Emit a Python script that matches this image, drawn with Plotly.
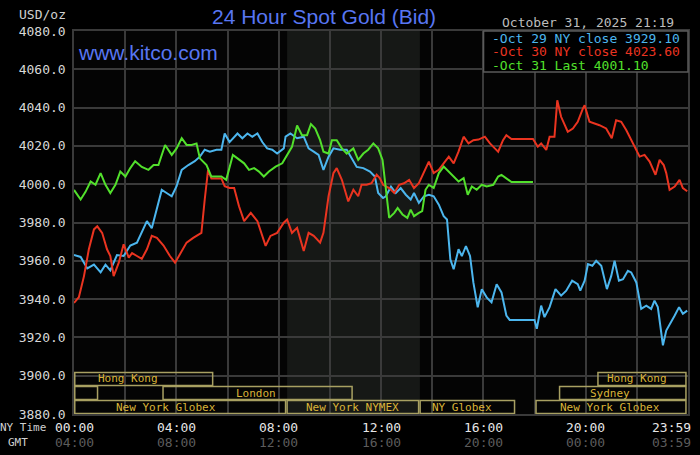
import plotly.graph_objects as go

# hours since 00:00 NY time and bid prices
oct29_hours = [0.00, 0.26, 0.52, 0.78, 1.04, 1.23, 1.42, 1.68, 1.94, 2.20, 2.46, 2.65, 2.85, 3.04,
               3.24, 3.43, 3.62, 3.82, 4.01, 4.21, 4.47, 4.72, 4.92, 5.11, 5.31, 5.57, 5.76, 5.89,
               6.08, 6.39, 6.58, 6.78, 6.97, 7.17, 7.36, 7.55, 7.75, 7.94, 8.20, 8.27, 8.46, 8.72,
               8.98, 9.17, 9.37, 9.56, 9.75, 9.95, 10.14, 10.40, 10.66, 10.85, 11.05, 11.31, 11.57,
               11.76, 11.89, 12.08, 12.19, 12.39, 12.58, 12.77, 12.97, 13.16, 13.29, 13.48, 13.68,
               13.87, 14.06, 14.26, 14.45, 14.58, 14.71, 14.84, 15.03, 15.16, 15.32, 15.48, 15.61,
               15.78, 15.94, 16.13, 16.32, 16.52, 16.71, 16.90, 17.03, 18.00, 18.09, 18.26, 18.39,
               18.59, 18.82, 19.04, 19.24, 19.47, 19.69, 19.79, 19.96, 20.09, 20.26, 20.41, 20.61,
               20.83, 21.00, 21.13, 21.30, 21.46, 21.65, 21.78, 21.98, 22.17, 22.37, 22.56, 22.69,
               22.82, 23.02, 23.15, 23.35, 23.48, 23.65, 23.80, 23.97]
oct29_prices = [3963, 3962, 3956, 3958, 3954, 3958, 3955, 3963, 3962.5, 3968, 3969.5, 3974.6, 3980.7,
                3977, 3986.7, 3997, 3995.4, 3993.7, 3999, 4007.5, 4010, 4012, 4014.4, 4018, 4017,
                4018, 4018, 4026.5, 4022, 4026.5, 4024, 4026.5, 4024.8, 4026.5, 4022, 4018.7, 4018,
                4016, 4018.7, 4024.8, 4026.5, 4024, 4024.8, 4018.7, 4017, 4015.3, 4007.5, 4014.4,
                4018.7, 4018, 4018, 4013.5, 4009, 4008.4, 4006.6, 4004, 3995.4, 3992.8, 3993.7,
                3998.8, 3995.4, 3998, 3994.5, 3992, 3995.4, 3990.2, 3993.7, 3994.5, 3993.7, 3989.3,
                3983.3, 3981.6, 3960.8, 3955.6, 3966, 3962.5, 3967.7, 3962.5, 3948.7, 3935.7, 3945.2,
                3940.9, 3938.3, 3947.8, 3943.5, 3931.4, 3929.1, 3929.1, 3924.5, 3936.6, 3930.6,
                3935.8, 3945.2, 3941.8, 3944.4, 3949.6, 3947.8, 3944.4, 3949.6, 3958.3, 3957.4, 3960,
                3957.4, 3945.2, 3952.1, 3960, 3949.6, 3950.4, 3954.8, 3953.9, 3948.7, 3934.9, 3936.6,
                3934.9, 3939.2, 3935.8, 3915.9, 3923.6, 3928, 3931.4, 3935.8, 3932.3, 3934]

oct30_hours = [0.00, 0.19, 0.39, 0.58, 0.78, 0.91, 1.10, 1.29, 1.42, 1.55, 1.75, 1.94, 2.14, 2.27,
               2.46, 2.65, 2.85, 3.04, 3.24, 3.50, 3.75, 3.95, 4.14, 4.40, 4.66, 4.98, 5.11, 5.24,
               5.37, 5.57, 5.76, 5.89, 6.08, 6.26, 6.45, 6.65, 6.91, 7.17, 7.36, 7.49, 7.68, 7.94,
               8.20, 8.33, 8.52, 8.72, 8.98, 9.17, 9.37, 9.62, 9.75, 9.95, 10.14, 10.27, 10.47,
               10.72, 10.92, 11.11, 11.24, 11.44, 11.63, 11.83, 11.95, 12.08, 12.32, 12.52, 12.71,
               12.90, 13.10, 13.29, 13.48, 13.68, 13.87, 14.06, 14.26, 14.45, 14.65, 14.84, 15.03,
               15.23, 15.42, 15.61, 15.81, 16.06, 16.26, 16.45, 16.58, 16.77, 16.90, 17.10, 17.94,
               18.13, 18.26, 18.46, 18.59, 18.78, 18.89, 19.04, 19.30, 19.50, 19.69, 19.89, 19.96,
               20.15, 20.35, 20.54, 20.80, 21.02, 21.19, 21.39, 21.59, 21.85, 22.11, 22.30, 22.50,
               22.73, 22.89, 23.05, 23.15, 23.28, 23.48, 23.67, 23.80, 23.97]
oct30_prices = [3938, 3941, 3952, 3966, 3976.4, 3978, 3974.6, 3966, 3962.5, 3952, 3959, 3968.6,
                3961.7, 3964, 3962.5, 3961, 3966, 3973, 3972, 3968, 3962.5, 3959, 3963.4, 3969.5,
                3972, 3974.6, 3992, 4007.5, 4003, 4003, 4003, 3999, 3998, 3998, 3988.5, 3980.7,
                3985, 3980.7, 3973, 3967.8, 3973, 3974.6, 3979.9, 3981.6, 3974.6, 3977.2, 3965.1,
                3974.6, 3973, 3969.5, 3974.6, 3993.7, 4005.8, 4008.4, 4002.3, 3991, 3997.1, 3993.7,
                3999.7, 3999.7, 4000.5, 4005, 4003.2, 3999.7, 3998, 3995.4, 3999.7, 4000.5, 4002.3,
                3998, 4000.5, 4006.6, 4011.8, 4005.8, 4007.5, 4010.9, 4014.4, 4010.9, 4017, 4024.8,
                4021.3, 4023, 4023.3, 4024.8, 4021.3, 4018.7, 4017, 4023, 4025.6, 4023.6, 4023.6,
                4019.6, 4021.3, 4017.9, 4024.8, 4024.8, 4043.8, 4035.2, 4027.4, 4029.1, 4032.6,
                4039.5, 4041.2, 4032.6, 4031.7, 4030.8, 4029.1, 4024, 4033.4, 4032.6, 4028.2, 4021.3,
                4014.4, 4015.3, 4011.8, 4004.9, 4012.7, 4010, 4005.8, 3997.1, 3998.8, 4002.3, 3998,
                3996.3]

oct31_hours = [0.00, 0.26, 0.45, 0.65, 0.84, 1.04, 1.23, 1.42, 1.62, 1.81, 2.01, 2.20, 2.39, 2.65,
               2.91, 3.11, 3.30, 3.56, 3.82, 4.01, 4.21, 4.40, 4.60, 4.79, 4.92, 5.18, 5.37, 5.57,
               5.76, 5.95, 6.08, 6.21, 6.39, 6.65, 6.84, 7.04, 7.23, 7.42, 7.62, 7.88, 8.14, 8.33,
               8.52, 8.72, 8.91, 9.11, 9.26, 9.43, 9.62, 9.75, 9.95, 10.08, 10.27, 10.47, 10.66,
               10.92, 11.11, 11.31, 11.50, 11.70, 11.89, 12.06, 12.19, 12.32, 12.52, 12.65, 12.84,
               13.03, 13.16, 13.29, 13.48, 13.61, 13.74, 13.87, 14.06, 14.26, 14.45, 14.65, 14.84,
               15.03, 15.23, 15.39, 15.55, 15.74, 15.94, 16.13, 16.39, 16.58, 16.71, 16.90, 17.10,
               17.94]
oct31_prices = [3997, 3992, 3996, 4001.4, 3999.7, 4005.8, 3999.7, 3995.4, 3999.7, 4006.6, 4004,
                4008.4, 4012, 4009, 4007.5, 4010, 4010, 4020.5, 4015.3, 4018.7, 4024, 4020.5, 4020.5,
                4021.3, 4013.5, 4010, 4004, 4004, 4004, 4002.3, 4009, 4015.3, 4013.5, 4010.9, 4007.5,
                4008.4, 4006.6, 4004, 4006.6, 4009.2, 4010.9, 4015.3, 4019.5, 4030.7, 4025.6, 4025.6,
                4031.4, 4029, 4023, 4017, 4016, 4023, 4023, 4018.7, 4016, 4018.7, 4012.7, 4016, 4018,
                4021.3, 4018.7, 4012.7, 3997.1, 3982.4, 3985, 3987.6, 3984.2, 3982.4, 3986.7, 3983.3,
                3985, 3985.9, 3997.1, 3999.7, 3998, 4005.8, 4009.2, 4006.6, 4004, 4001.4, 4003.2,
                3994.5, 3998.8, 3997.1, 3999.7, 3998.8, 3999.7, 4004, 4004.9, 4003.2, 4001.1, 4001.1]

legend_labels = ["Oct 29 NY close 3929.10", "Oct 30 NY close 4023.60", "Oct 31 Last 4001.10"]

# trading sessions: name, start hour, end hour, row (1 = top), label hour
session_names = ["Hong Kong", "Hong Kong", "", "London", "Sydney",
                 "New York Globex", "New York NYMEX", "NY Globex", "New York Globex"]
session_start = [0, 20.45, 0, 3.45, 18.95, 0, 8.3, 13.5, 18.03]
session_end = [5.45, 23.95, 0.95, 10.9, 23.95, 8.3, 13.5, 17.25, 23.95]
session_row = [1, 1, 2, 2, 2, 3, 3, 3, 3]
session_label_at = [2.1, 22.0, 0.5, 7.13, 20.95, 3.61, 10.88, 15.17, 20.95]

ny_ticks = ["00:00", "04:00", "08:00", "12:00", "16:00", "20:00", "23:59"]
gmt_ticks = ["04:00", "08:00", "12:00", "16:00", "20:00", "00:00", "03:59"]
tick_hours = [0, 4, 8, 12, 16, 20, 24]

nymex_open, nymex_close = 8.33, 13.52

BLUE, RED, GREEN = "#4cb6ee", "#ea3420", "#52e02c"
GRID = "#3a3a3a"
MONO = "DejaVu Sans Mono"


def label(x, y, text, size, color, xanchor="center", family=MONO):
    fig.add_annotation(xref="paper", yref="paper", x=x, y=y, text=text, showarrow=False,
                       xanchor=xanchor, yanchor="middle",
                       font=dict(family=family, size=size, color=color))


fig = go.Figure()
for h, p, c in [(oct29_hours, oct29_prices, BLUE),
                (oct30_hours, oct30_prices, RED),
                (oct31_hours, oct31_prices, GREEN)]:
    fig.add_trace(go.Scatter(x=h, y=p, mode="lines", line=dict(color=c, width=2),
                             showlegend=False, hoverinfo="skip"))

# shaded NYMEX hours
fig.add_shape(type="rect", xref="x", yref="paper", x0=nymex_open, x1=nymex_close, y0=0, y1=1,
              fillcolor="#161816", line_width=0, layer="below")

# session boxes
row_edges = {1: (3894.6, 3902.0), 2: (3887.3, 3894.6), 3: (3880.0, 3887.3)}
for name, s, e, r, lx in zip(session_names, session_start, session_end, session_row, session_label_at):
    y0, y1 = row_edges[r]
    fig.add_shape(type="rect", x0=s + 0.03, x1=e - 0.03, y0=y0 + 0.3, y1=y1 - 0.3,
                  line=dict(color="#a8a062", width=1.5), layer="above")
    if name:
        fig.add_annotation(x=lx, y=(y0 + y1) / 2, text=name, showarrow=False,
                           xanchor="center", yanchor="middle",
                           font=dict(family=MONO, size=11, color="#dab438"))

# legend box
fig.add_shape(type="rect", xref="paper", yref="paper", x0=0.667, x1=1.0, y0=0.893, y1=1.0,
              fillcolor="#000000", line=dict(color="#5a5a5a", width=1.5), layer="above")
for i, (lab, c) in enumerate(zip(legend_labels, [BLUE, RED, GREEN])):
    label(0.677, 0.9817 - i * 0.0362, "-" + lab, 13, c, xanchor="left")

# time labels under the axis
for h, ny, gmt in zip(tick_hours, ny_ticks, gmt_ticks):
    last = h == tick_hours[-1]
    xx = 1.008 if last else h / 24
    anchor = "right" if last else "center"
    label(xx, -0.034, ny, 13, "#e6e6e6", xanchor=anchor)
    label(xx, -0.074, gmt, 13, "#5c5c5c", xanchor=anchor)
label(-0.042, -0.034, "NY Time", 11, "#d0d0d0", xanchor="right")
label(-0.071, -0.074, "GMT", 11, "#d0d0d0", xanchor="right")

# header texts
label(0.4075, 1.0366, "24 Hour Spot Gold (Bid)", 21, "#5876f2", family="Liberation Sans")
label(0.003, 0.9426, "www.kitco.com", 21, "#5876f2", xanchor="left", family="Liberation Sans")
label(-0.0097, 1.0418, "USD/oz", 13, "#d0d0d0", xanchor="right")
label(0.9805, 1.0209, "October 31, 2025 21:19", 13, "#bdbdbd", xanchor="right")

fig.update_xaxes(range=[0, 24], dtick=2, tick0=0, showticklabels=False, showgrid=True,
                 gridcolor=GRID, gridwidth=1.5, zeroline=False,
                 showline=True, linecolor=GRID, linewidth=1.5, mirror=True)
fig.update_yaxes(range=[3880, 4080], dtick=20, tick0=3880, tickformat=".1f", showgrid=True,
                 gridcolor=GRID, gridwidth=1.5, zeroline=False,
                 showline=True, linecolor=GRID, linewidth=1.5, mirror=True,
                 ticks="outside", ticklen=4, tickcolor="#000000",
                 tickfont=dict(family=MONO, size=13, color="#d8d8d8"))

fig.update_layout(
    width=700, height=455,
    margin=dict(l=74, r=10, t=31, b=41),
    paper_bgcolor="#000000",
    plot_bgcolor="#040404",
)

# page body has a default margin; drop it so the chart sits in the corner
fig.write_html("out.html", config={"displayModeBar": False},
               post_script="document.body.style.margin='0';document.body.style.background='#000';")
